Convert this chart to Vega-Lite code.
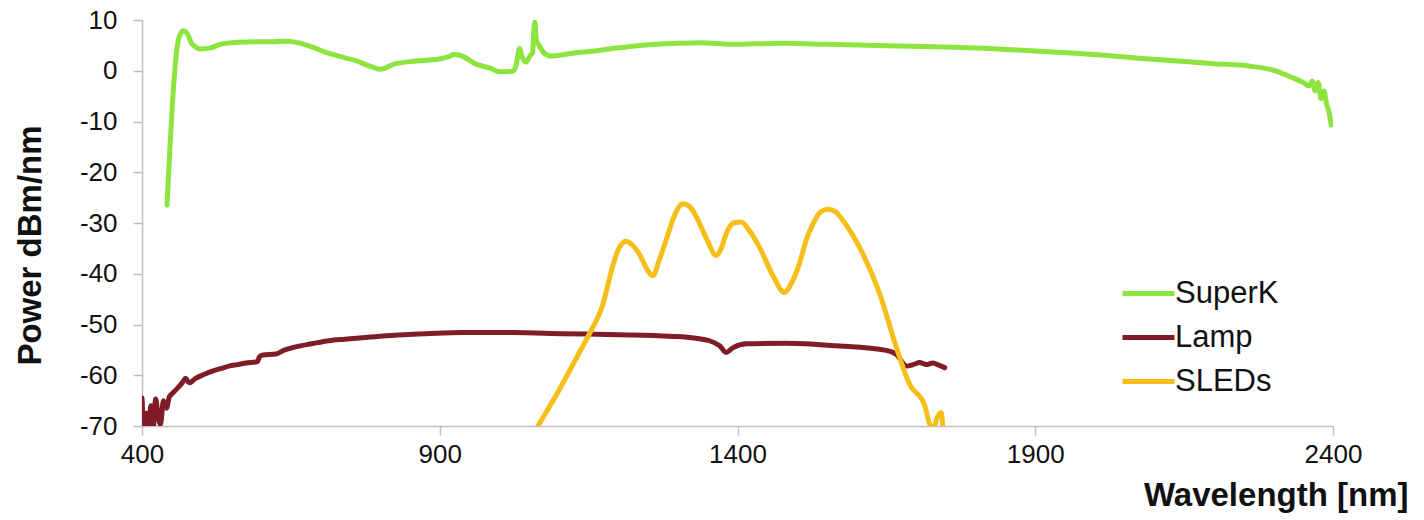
{
  "$schema": "https://vega.github.io/schema/vega-lite/v6.json",
  "width": 1191,
  "height": 406,
  "autosize": {"type": "none"},
  "padding": {"left": 142, "top": 20, "right": 91, "bottom": 94},
  "background": "white",
  "config": {
    "view": {"stroke": null},
    "font": "Liberation Sans",
    "axis": {"grid": false, "domainColor": "#BFBFBF", "tickColor": "#BFBFBF", "domainWidth": 1.5, "tickWidth": 1.5, "labelColor": "#111111", "titleColor": "#111111", "labelFont": "Liberation Sans", "titleFont": "Liberation Sans"}
  },
  "data": {
    "values": [
      {"wl": 442, "p": -26.5, "s": "SuperK"},
      {"wl": 447, "p": -15, "s": "SuperK"},
      {"wl": 455, "p": 0, "s": "SuperK"},
      {"wl": 462, "p": 6.5, "s": "SuperK"},
      {"wl": 469, "p": 7.9, "s": "SuperK"},
      {"wl": 475, "p": 7.5, "s": "SuperK"},
      {"wl": 484, "p": 5.3, "s": "SuperK"},
      {"wl": 499, "p": 4.3, "s": "SuperK"},
      {"wl": 515, "p": 4.5, "s": "SuperK"},
      {"wl": 534, "p": 5.3, "s": "SuperK"},
      {"wl": 560, "p": 5.6, "s": "SuperK"},
      {"wl": 591, "p": 5.7, "s": "SuperK"},
      {"wl": 620, "p": 5.7, "s": "SuperK"},
      {"wl": 641, "p": 5.8, "s": "SuperK"},
      {"wl": 664, "p": 5.5, "s": "SuperK"},
      {"wl": 685, "p": 4.7, "s": "SuperK"},
      {"wl": 709, "p": 3.6, "s": "SuperK"},
      {"wl": 740, "p": 2.6, "s": "SuperK"},
      {"wl": 759, "p": 2.0, "s": "SuperK"},
      {"wl": 785, "p": 0.8, "s": "SuperK"},
      {"wl": 801, "p": 0.3, "s": "SuperK"},
      {"wl": 815, "p": 0.9, "s": "SuperK"},
      {"wl": 826, "p": 1.4, "s": "SuperK"},
      {"wl": 860, "p": 1.9, "s": "SuperK"},
      {"wl": 899, "p": 2.3, "s": "SuperK"},
      {"wl": 915, "p": 2.8, "s": "SuperK"},
      {"wl": 924, "p": 3.2, "s": "SuperK"},
      {"wl": 935, "p": 3.0, "s": "SuperK"},
      {"wl": 961, "p": 1.3, "s": "SuperK"},
      {"wl": 985, "p": 0.5, "s": "SuperK"},
      {"wl": 1000, "p": -0.2, "s": "SuperK"},
      {"wl": 1022, "p": -0.1, "s": "SuperK"},
      {"wl": 1028, "p": 1.0, "s": "SuperK"},
      {"wl": 1034, "p": 4.4, "s": "SuperK"},
      {"wl": 1039, "p": 2.5, "s": "SuperK"},
      {"wl": 1045, "p": 1.7, "s": "SuperK"},
      {"wl": 1052, "p": 3.0, "s": "SuperK"},
      {"wl": 1056, "p": 3.6, "s": "SuperK"},
      {"wl": 1058, "p": 8.0, "s": "SuperK"},
      {"wl": 1060, "p": 9.6, "s": "SuperK"},
      {"wl": 1062, "p": 6.0, "s": "SuperK"},
      {"wl": 1067, "p": 5.0, "s": "SuperK"},
      {"wl": 1075, "p": 3.5, "s": "SuperK"},
      {"wl": 1087, "p": 2.9, "s": "SuperK"},
      {"wl": 1110, "p": 3.2, "s": "SuperK"},
      {"wl": 1131, "p": 3.6, "s": "SuperK"},
      {"wl": 1160, "p": 3.9, "s": "SuperK"},
      {"wl": 1185, "p": 4.3, "s": "SuperK"},
      {"wl": 1220, "p": 4.8, "s": "SuperK"},
      {"wl": 1263, "p": 5.2, "s": "SuperK"},
      {"wl": 1300, "p": 5.4, "s": "SuperK"},
      {"wl": 1341, "p": 5.5, "s": "SuperK"},
      {"wl": 1387, "p": 5.2, "s": "SuperK"},
      {"wl": 1430, "p": 5.3, "s": "SuperK"},
      {"wl": 1476, "p": 5.4, "s": "SuperK"},
      {"wl": 1550, "p": 5.2, "s": "SuperK"},
      {"wl": 1669, "p": 4.9, "s": "SuperK"},
      {"wl": 1750, "p": 4.7, "s": "SuperK"},
      {"wl": 1800, "p": 4.5, "s": "SuperK"},
      {"wl": 1900, "p": 3.9, "s": "SuperK"},
      {"wl": 2000, "p": 3.2, "s": "SuperK"},
      {"wl": 2092, "p": 2.3, "s": "SuperK"},
      {"wl": 2200, "p": 1.4, "s": "SuperK"},
      {"wl": 2261, "p": 0.9, "s": "SuperK"},
      {"wl": 2300, "p": 0.1, "s": "SuperK"},
      {"wl": 2333, "p": -1.4, "s": "SuperK"},
      {"wl": 2350, "p": -2.3, "s": "SuperK"},
      {"wl": 2360, "p": -3.0, "s": "SuperK"},
      {"wl": 2365, "p": -2.0, "s": "SuperK"},
      {"wl": 2370, "p": -4.0, "s": "SuperK"},
      {"wl": 2375, "p": -2.3, "s": "SuperK"},
      {"wl": 2380, "p": -5.5, "s": "SuperK"},
      {"wl": 2385, "p": -4.0, "s": "SuperK"},
      {"wl": 2389, "p": -6.5, "s": "SuperK"},
      {"wl": 2393, "p": -8.0, "s": "SuperK"},
      {"wl": 2397, "p": -10.7, "s": "SuperK"},

      {"wl": 400, "p": -64.5, "s": "Lamp"},
      {"wl": 403, "p": -70, "s": "Lamp"},
      {"wl": 407, "p": -67.5, "s": "Lamp"},
      {"wl": 411, "p": -70, "s": "Lamp"},
      {"wl": 415, "p": -66, "s": "Lamp"},
      {"wl": 419, "p": -70, "s": "Lamp"},
      {"wl": 423, "p": -64.7, "s": "Lamp"},
      {"wl": 427, "p": -68, "s": "Lamp"},
      {"wl": 431, "p": -69.7, "s": "Lamp"},
      {"wl": 436, "p": -65, "s": "Lamp"},
      {"wl": 441, "p": -66.5, "s": "Lamp"},
      {"wl": 446, "p": -64.2, "s": "Lamp"},
      {"wl": 451, "p": -63.6, "s": "Lamp"},
      {"wl": 460, "p": -62.5, "s": "Lamp"},
      {"wl": 468, "p": -61.4, "s": "Lamp"},
      {"wl": 473, "p": -60.6, "s": "Lamp"},
      {"wl": 479, "p": -61.5, "s": "Lamp"},
      {"wl": 490, "p": -60.6, "s": "Lamp"},
      {"wl": 505, "p": -59.8, "s": "Lamp"},
      {"wl": 518, "p": -59.2, "s": "Lamp"},
      {"wl": 532, "p": -58.7, "s": "Lamp"},
      {"wl": 546, "p": -58.2, "s": "Lamp"},
      {"wl": 560, "p": -57.9, "s": "Lamp"},
      {"wl": 575, "p": -57.6, "s": "Lamp"},
      {"wl": 594, "p": -57.3, "s": "Lamp"},
      {"wl": 597, "p": -56.4, "s": "Lamp"},
      {"wl": 603, "p": -56.0, "s": "Lamp"},
      {"wl": 625, "p": -55.8, "s": "Lamp"},
      {"wl": 640, "p": -55.0, "s": "Lamp"},
      {"wl": 658, "p": -54.4, "s": "Lamp"},
      {"wl": 685, "p": -53.8, "s": "Lamp"},
      {"wl": 714, "p": -53.2, "s": "Lamp"},
      {"wl": 740, "p": -52.9, "s": "Lamp"},
      {"wl": 770, "p": -52.6, "s": "Lamp"},
      {"wl": 810, "p": -52.2, "s": "Lamp"},
      {"wl": 854, "p": -51.9, "s": "Lamp"},
      {"wl": 895, "p": -51.7, "s": "Lamp"},
      {"wl": 938, "p": -51.6, "s": "Lamp"},
      {"wl": 1022, "p": -51.6, "s": "Lamp"},
      {"wl": 1106, "p": -51.8, "s": "Lamp"},
      {"wl": 1202, "p": -52.0, "s": "Lamp"},
      {"wl": 1286, "p": -52.3, "s": "Lamp"},
      {"wl": 1330, "p": -52.7, "s": "Lamp"},
      {"wl": 1353, "p": -53.2, "s": "Lamp"},
      {"wl": 1370, "p": -54.2, "s": "Lamp"},
      {"wl": 1381, "p": -55.5, "s": "Lamp"},
      {"wl": 1392, "p": -54.6, "s": "Lamp"},
      {"wl": 1415, "p": -53.8, "s": "Lamp"},
      {"wl": 1482, "p": -53.7, "s": "Lamp"},
      {"wl": 1566, "p": -54.2, "s": "Lamp"},
      {"wl": 1650, "p": -55.1, "s": "Lamp"},
      {"wl": 1667, "p": -55.9, "s": "Lamp"},
      {"wl": 1684, "p": -58.2, "s": "Lamp"},
      {"wl": 1695, "p": -57.9, "s": "Lamp"},
      {"wl": 1706, "p": -57.5, "s": "Lamp"},
      {"wl": 1717, "p": -57.9, "s": "Lamp"},
      {"wl": 1728, "p": -57.6, "s": "Lamp"},
      {"wl": 1738, "p": -58.0, "s": "Lamp"},
      {"wl": 1748, "p": -58.5, "s": "Lamp"},

      {"wl": 1060, "p": -71, "s": "SLEDs"},
      {"wl": 1065, "p": -70, "s": "SLEDs"},
      {"wl": 1100, "p": -63.0, "s": "SLEDs"},
      {"wl": 1130, "p": -56.5, "s": "SLEDs"},
      {"wl": 1151, "p": -51.9, "s": "SLEDs"},
      {"wl": 1174, "p": -46, "s": "SLEDs"},
      {"wl": 1190, "p": -38.7, "s": "SLEDs"},
      {"wl": 1200, "p": -35.2, "s": "SLEDs"},
      {"wl": 1213, "p": -33.6, "s": "SLEDs"},
      {"wl": 1222, "p": -34.2, "s": "SLEDs"},
      {"wl": 1235, "p": -36.1, "s": "SLEDs"},
      {"wl": 1250, "p": -39.5, "s": "SLEDs"},
      {"wl": 1258, "p": -40.4, "s": "SLEDs"},
      {"wl": 1268, "p": -37.5, "s": "SLEDs"},
      {"wl": 1280, "p": -33.4, "s": "SLEDs"},
      {"wl": 1295, "p": -28.3, "s": "SLEDs"},
      {"wl": 1308, "p": -26.2, "s": "SLEDs"},
      {"wl": 1320, "p": -26.8, "s": "SLEDs"},
      {"wl": 1331, "p": -28.8, "s": "SLEDs"},
      {"wl": 1350, "p": -33.6, "s": "SLEDs"},
      {"wl": 1364, "p": -36.4, "s": "SLEDs"},
      {"wl": 1372, "p": -35.2, "s": "SLEDs"},
      {"wl": 1381, "p": -32.1, "s": "SLEDs"},
      {"wl": 1393, "p": -30.0, "s": "SLEDs"},
      {"wl": 1406, "p": -29.8, "s": "SLEDs"},
      {"wl": 1420, "p": -31.5, "s": "SLEDs"},
      {"wl": 1437, "p": -34.8, "s": "SLEDs"},
      {"wl": 1460, "p": -40.5, "s": "SLEDs"},
      {"wl": 1479, "p": -43.7, "s": "SLEDs"},
      {"wl": 1490, "p": -42, "s": "SLEDs"},
      {"wl": 1504, "p": -38.0, "s": "SLEDs"},
      {"wl": 1515, "p": -33.5, "s": "SLEDs"},
      {"wl": 1527, "p": -30.1, "s": "SLEDs"},
      {"wl": 1540, "p": -27.8, "s": "SLEDs"},
      {"wl": 1552, "p": -27.3, "s": "SLEDs"},
      {"wl": 1565, "p": -27.8, "s": "SLEDs"},
      {"wl": 1577, "p": -29.5, "s": "SLEDs"},
      {"wl": 1605, "p": -34.8, "s": "SLEDs"},
      {"wl": 1639, "p": -44.0, "s": "SLEDs"},
      {"wl": 1667, "p": -54.6, "s": "SLEDs"},
      {"wl": 1689, "p": -61.8, "s": "SLEDs"},
      {"wl": 1714, "p": -65.8, "s": "SLEDs"},
      {"wl": 1723, "p": -69.7, "s": "SLEDs"},
      {"wl": 1730, "p": -70.5, "s": "SLEDs"},
      {"wl": 1734, "p": -68.7, "s": "SLEDs"},
      {"wl": 1742, "p": -67.4, "s": "SLEDs"},
      {"wl": 1745, "p": -70.5, "s": "SLEDs"}
    ]
  },
  "mark": {"type": "line", "strokeWidth": 5, "strokeJoin": "round", "strokeCap": "round", "clip": true, "interpolate": "monotone"},
  "encoding": {
    "x": {
      "field": "wl", "type": "quantitative",
      "scale": {"domain": [400, 2400], "nice": false, "zero": false},
      "axis": {
        "values": [400, 900, 1400, 1900, 2400],
        "labelExpr": "'' + datum.value",
        "labelFlush": false, "labelOverlap": false,
        "labelFontSize": 26, "tickSize": 9, "labelPadding": 6,
        "title": "Wavelength [nm]", "titleFontSize": 33, "titleFontWeight": "bold",
        "titleAnchor": null, "titleAlign": "right", "titleX": 1266, "titleY": 79, "titleBaseline": "alphabetic"
      }
    },
    "y": {
      "field": "p", "type": "quantitative",
      "scale": {"domain": [-70, 10], "nice": false, "zero": false},
      "axis": {
        "values": [-70, -60, -50, -40, -30, -20, -10, 0, 10],
        "labelExpr": "'' + datum.value",
        "labelFlush": false, "labelOverlap": false,
        "labelFontSize": 26, "tickSize": 9, "labelPadding": 16,
        "title": "Power dBm/nm", "titleFontSize": 33, "titleFontWeight": "bold",
        "titleAngle": -90, "titleAlign": "center", "titleBaseline": "middle",
        "titleX": -112, "titleY": 225
      }
    },
    "color": {
      "field": "s", "type": "nominal",
      "scale": {"domain": ["SuperK", "Lamp", "SLEDs"], "range": ["#8EE43E", "#801C28", "#F5BE19"]},
      "legend": {
        "title": null, "orient": "none", "legendX": 978, "legendY": 245,
        "symbolType": "stroke", "symbolSize": 2704, "symbolStrokeWidth": 5,
        "labelFontSize": 31, "labelFont": "Liberation Sans", "labelColor": "#111111",
        "labelOffset": -2, "rowPadding": -4
      }
    }
  }
}
